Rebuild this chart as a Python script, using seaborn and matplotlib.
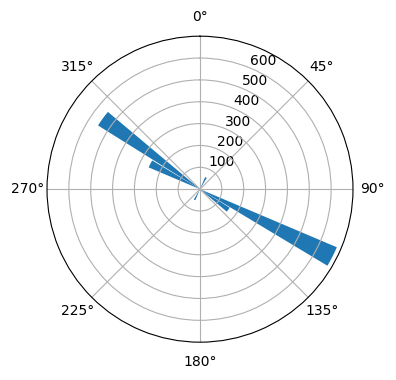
import numpy as np
import matplotlib
matplotlib.use("Agg")
import matplotlib.pyplot as plt
import seaborn as sns

# Data: direction (degrees) and counts
directions_deg = [27, 117, 126, 207, 297, 306]
counts = [60, 680, 160, 55, 255, 550]
bar_width_deg = 8.0
r_ticks = [100, 200, 300, 400, 500, 600]
r_max = 700

color = sns.color_palette("tab10")[0]

fig = plt.figure(figsize=(3.96, 3.80), dpi=100)
ax = fig.add_axes([0.1187, 0.0995, 0.7727, 0.8053], projection="polar")
ax.set_theta_zero_location("N")
ax.set_theta_direction(-1)

ax.bar(np.deg2rad(directions_deg), counts, width=np.deg2rad(bar_width_deg),
       color=color, edgecolor="none")

ax.set_ylim(0, r_max)
ax.set_yticks(r_ticks)
ax.set_yticklabels([str(t) for t in r_ticks])
ax.set_rlabel_position(22.5)
ax.set_xticks(np.deg2rad(np.arange(0, 360, 45)))
ax.set_xticklabels([f"{d}°" for d in range(0, 360, 45)])
ax.grid(True, color="#b0b0b0", linewidth=0.8)

fig.savefig("out.png", dpi=100)
